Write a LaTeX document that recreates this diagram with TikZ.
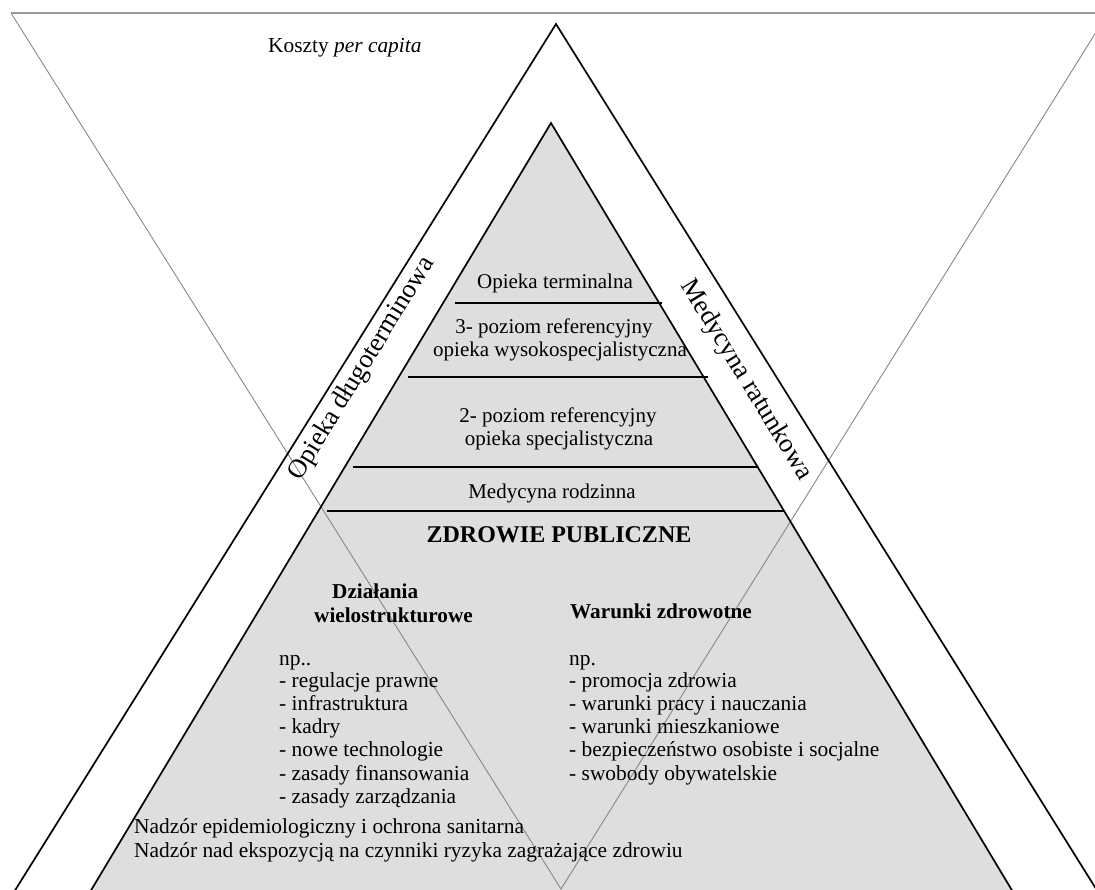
\documentclass[tikz,border=0pt]{standalone}
\usepackage{fontspec}
\setmainfont{Liberation Serif}
\definecolor{pyrfill}{RGB}{222,222,222}
\definecolor{thinline}{RGB}{135,135,135}
\definecolor{topline}{RGB}{155,155,155}
\tikzset{
  txt/.style={inner sep=0pt, font=\fontsize{21.4}{23.2}\selectfont},
  pyrtxt/.style={inner sep=0pt, font=\fontsize{21}{23}\selectfont},
  boldtxt/.style={inner sep=0pt, font=\fontsize{21.2}{23.2}\selectfont\bfseries},
  titletxt/.style={inner sep=0pt, font=\fontsize{24}{26}\selectfont\bfseries},
  rottxt/.style={inner sep=0pt, font=\fontsize{26.5}{28}\selectfont},
  edge/.style={draw=black, line width=1.7pt},
  divider/.style={draw=black, line width=2.7pt},
  vline/.style={draw=thinline, line width=0.9pt},
  hline/.style={draw=topline, line width=1.4pt}
}
\begin{document}
\begin{tikzpicture}[x=1pt,y=-1pt]
\useasboundingbox (0,0) rectangle (1095,889);
\begin{scope}
\clip (0,0) rectangle (1095,889);
% coordinates
\coordinate (oa) at (556,24);
\coordinate (ol) at (14,892);
\coordinate (or) at (1098,892);
\coordinate (ia) at (551,123);
\coordinate (il) at (90,892);
\coordinate (ir) at (1013,892);
\coordinate (vl) at (11,13);
\coordinate (vr) at (1108,13);
\coordinate (vb) at (561,889);
\coordinate (hr) at (1100,13);
% inner pyramid fill
\fill[pyrfill] (ia) -- (il) -- (ir) -- cycle;
% thin V lines and top line
\draw[hline] (vl) -- (hr);
\draw[vline] (vl) -- (vb) -- (vr);
% triangle edges
\draw[edge] (ol) -- (oa) -- (or);
\draw[edge] (il) -- (ia) -- (ir);
% dividers
\coordinate (d1l) at (455,303); \coordinate (d1r) at (662,303);
\coordinate (d2l) at (408,377); \coordinate (d2r) at (708,377);
\coordinate (d3l) at (353,467); \coordinate (d3r) at (758,467);
\coordinate (d4l) at (327,511); \coordinate (d4r) at (785,511);
\draw[divider] (d1l) -- (d1r);
\draw[divider] (d2l) -- (d2r);
\draw[divider] (d3l) -- (d3r);
\draw[divider] (d4l) -- (d4r);
\end{scope}
% texts
\node[txt, anchor=base west] (koszty) at (268,52) {Koszty \textit{per capita}};
\node[pyrtxt, anchor=base] (term) at (555,288) {Opieka terminalna};
\node[pyrtxt, anchor=base] (p3a) at (554,333) {3- poziom referencyjny};
\node[pyrtxt, anchor=base] (p3b) at (560,356) {opieka wysokospecjalistyczna};
\node[pyrtxt, anchor=base] (p2a) at (558,422) {2- poziom referencyjny};
\node[pyrtxt, anchor=base] (p2b) at (559,445) {opieka specjalistyczna};
\node[pyrtxt, anchor=base] (rodz) at (552,498) {Medycyna rodzinna};
\node[titletxt, anchor=base] (zp) at (559,542) {ZDROWIE PUBLICZNE};
\node[boldtxt, anchor=base west] (dz1) at (332,598) {Działania};
\node[boldtxt, anchor=base west] (dz2) at (314,622) {wielostrukturowe};
\node[boldtxt, anchor=base west] (war) at (570,618) {Warunki zdrowotne};
\node[txt, anchor=base west] (lnp) at (279,665) {np..};
\foreach \t [count=\i] in {- regulacje prawne, - infrastruktura, - kadry, - nowe technologie, - zasady finansowania, - zasady zarządzania}
  \node[txt, anchor=base west] (l\i) at (279,664+23.2*\i) {\t};
\node[txt, anchor=base west] (rnp) at (569,665) {np.};
\foreach \t [count=\i] in {- promocja zdrowia, - warunki pracy i nauczania, - warunki mieszkaniowe, - bezpieczeństwo osobiste i socjalne, - swobody obywatelskie}
  \node[txt, anchor=base west] (r\i) at (569,664+23.2*\i) {\t};
\node[txt, anchor=base west] (nad1) at (134,833) {Nadzór epidemiologiczny i ochrona sanitarna};
\node[txt, anchor=base west] (nad2) at (134,857) {Nadzór nad ekspozycją na czynniki ryzyka zagrażające zdrowiu};
\node[rottxt, rotate=58.6] (odl) at (362,369) {Opieka długoterminowa};
\node[rottxt, rotate=-58.6] (mrat) at (746,380) {Medycyna ratunkowa};
\end{tikzpicture}
\end{document}
